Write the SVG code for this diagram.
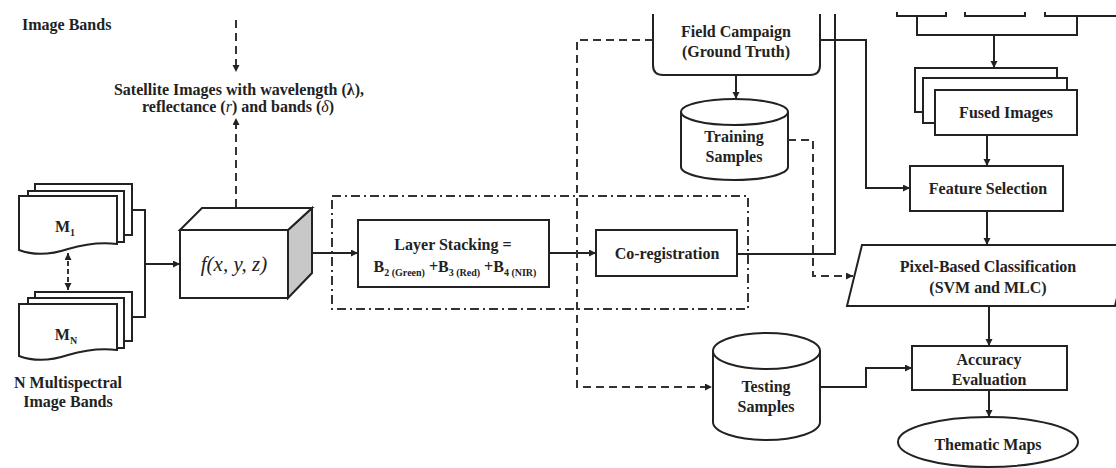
<svg xmlns="http://www.w3.org/2000/svg" width="1116" height="468" viewBox="0 0 1116 468">
<style>
.s{fill:#fff;stroke:#222;stroke-width:2}
.l{fill:none;stroke:#222;stroke-width:2}
.d{fill:none;stroke:#333;stroke-width:2;stroke-dasharray:8 5}
.dd{fill:none;stroke:#333;stroke-width:2;stroke-dasharray:9 4 2 4}
text{font-family:"Liberation Serif","Times New Roman",serif;font-weight:bold;font-size:16px;fill:#222;text-anchor:middle}
.sub{font-size:10px}
.it{font-style:italic;font-weight:normal}
</style>
<defs>
<marker id="a" markerUnits="userSpaceOnUse" markerWidth="8" markerHeight="8" refX="7" refY="3.5" orient="auto-start-reverse"><path d="M0,0 L7,3.5 L0,7 z" fill="#222"/></marker>
</defs>
<rect width="1116" height="468" fill="#fff"/>

<g id="top-label"><text x="22" y="30" style="text-anchor:start">Image Bands</text></g>

<g id="satellite">
<text x="239" y="95">Satellite Images with wavelength (λ),</text>
<text x="238" y="112">reflectance (<tspan class="it">r</tspan>) and bands (<tspan class="it">δ</tspan>)</text>
</g>

<g id="m1">
<rect class="s" x="35" y="184" width="97" height="51"/>
<rect class="s" x="28" y="191" width="96" height="51"/>
<path class="s" d="M19,196 H117 V244 C100,242 85,244 68,249 C50,255 35,256 19,250 Z"/>
<text x="65" y="232">M<tspan class="sub" dy="4">1</tspan></text>
</g>

<g id="mn">
<rect class="s" x="35" y="292" width="97" height="49"/>
<rect class="s" x="28" y="298" width="96" height="50"/>
<path class="s" d="M19,304 H117 V350 C100,348 85,350 68,355 C50,361 35,362 19,356 Z"/>
<text x="66" y="340">M<tspan class="sub" dy="4">N</tspan></text>
</g>

<g id="mlabel">
<text x="68" y="388">N Multispectral</text>
<text x="68" y="407">Image Bands</text>
</g>

<g id="fbox">
<path d="M288,230 L312,208 V273 L288,298 Z" fill="#c8c8c8" stroke="#222" stroke-width="2"/>
<path class="s" d="M180,230 L202,208 H312 L288,230 Z"/>
<rect class="s" x="180" y="230" width="108" height="68"/>
<text x="234" y="271" class="it" style="font-size:21px">f(x, y, z)</text>
</g>

<g id="frame"><rect class="dd" x="332" y="196" width="416" height="113"/></g>

<g id="layer">
<rect class="s" x="358" y="220" width="191" height="67"/>
<text x="453" y="250">Layer Stacking =</text>
<text x="455" y="272">B<tspan class="sub" dy="4">2 (Green)</tspan><tspan dy="-4"> +B</tspan><tspan class="sub" dy="4">3 (Red)</tspan><tspan dy="-4"> +B</tspan><tspan class="sub" dy="4">4 (NIR)</tspan></text>
</g>

<g id="coreg">
<rect class="s" x="596" y="230" width="141" height="46"/>
<text x="667" y="259">Co-registration</text>
</g>

<g id="field">
<path class="s" d="M653,14 V65 Q653,75 663,75 H810 Q820,75 820,65 V14"/>
<text x="736" y="37">Field Campaign</text>
<text x="736" y="57">(Ground Truth)</text>
</g>

<g id="training">
<path class="s" d="M681,112 V167 A53.5,13 0 0 0 788,167 V112"/>
<ellipse class="s" cx="734.5" cy="112" rx="53.5" ry="13"/>
<text x="734" y="142">Training</text>
<text x="734" y="162">Samples</text>
</g>

<g id="topboxes">
<path class="l" d="M897,12 V16 H946 V12"/>
<path class="l" d="M965,12 V16 H1025 V12"/>
<path class="l" d="M1045,12 V16 H1117"/>
</g>

<g id="fused">
<rect class="s" x="915" y="68" width="142" height="44"/>
<rect class="s" x="923" y="78" width="144" height="45"/>
<rect class="s" x="935" y="90" width="142" height="45"/>
<text x="1006" y="118">Fused Images</text>
</g>

<g id="feature">
<rect class="s" x="910" y="166" width="153" height="45"/>
<text x="988" y="194">Feature Selection</text>
</g>

<g id="pixel">
<path class="s" d="M862,245 H1130 L1115,306 H847 Z"/>
<text x="988" y="272">Pixel-Based Classification</text>
<text x="988" y="293">(SVM and MLC)</text>
</g>

<g id="testing">
<path class="s" d="M713,351 V422 A53.5,18 0 0 0 820,422 V351"/>
<ellipse class="s" cx="766.5" cy="351" rx="53.5" ry="18"/>
<text x="766" y="392">Testing</text>
<text x="766" y="412">Samples</text>
</g>

<g id="accuracy">
<rect class="s" x="912" y="346" width="155" height="44"/>
<text x="989" y="365">Accuracy</text>
<text x="989" y="385">Evaluation</text>
</g>

<g id="thematic">
<ellipse class="s" cx="988" cy="442" rx="90" ry="25"/>
<text x="988" y="450">Thematic Maps</text>
</g>

<g id="connectors">
<path class="d" d="M236,20 V72" marker-end="url(#a)"/>
<path class="d" d="M236,207 V118" marker-end="url(#a)"/>
<path class="d" d="M68,253 V290" marker-start="url(#a)" marker-end="url(#a)" style="stroke-dasharray:5 3"/>
<path class="l" d="M132,210 H145 V317 H132"/>
<path class="l" d="M145,264 H180" marker-end="url(#a)"/>
<path class="l" d="M312,253 H358" marker-end="url(#a)"/>
<path class="l" d="M549,253 H596" marker-end="url(#a)"/>
<path class="l" d="M737,254 H835 V14"/>
<path class="l" d="M820,40 H866 V188 H910" marker-end="url(#a)"/>
<path class="l" d="M736,75 V99" marker-end="url(#a)"/>
<path class="d" d="M653,40 H577 V387 H712" marker-end="url(#a)"/>
<path class="d" d="M788,140 H813 V276 H853" marker-end="url(#a)"/>
<path class="l" d="M917,16 V35 H1077 V16"/>
<path class="l" d="M994,35 V68" marker-end="url(#a)"/>
<path class="l" d="M987,135 V166" marker-end="url(#a)"/>
<path class="l" d="M987,211 V245" marker-end="url(#a)"/>
<path class="l" d="M820,387 H866 V368 H912" marker-end="url(#a)"/>
<path class="l" d="M989,306 V346" marker-end="url(#a)"/>
<path class="l" d="M989,390 V417" marker-end="url(#a)"/>
</g>
</svg>
